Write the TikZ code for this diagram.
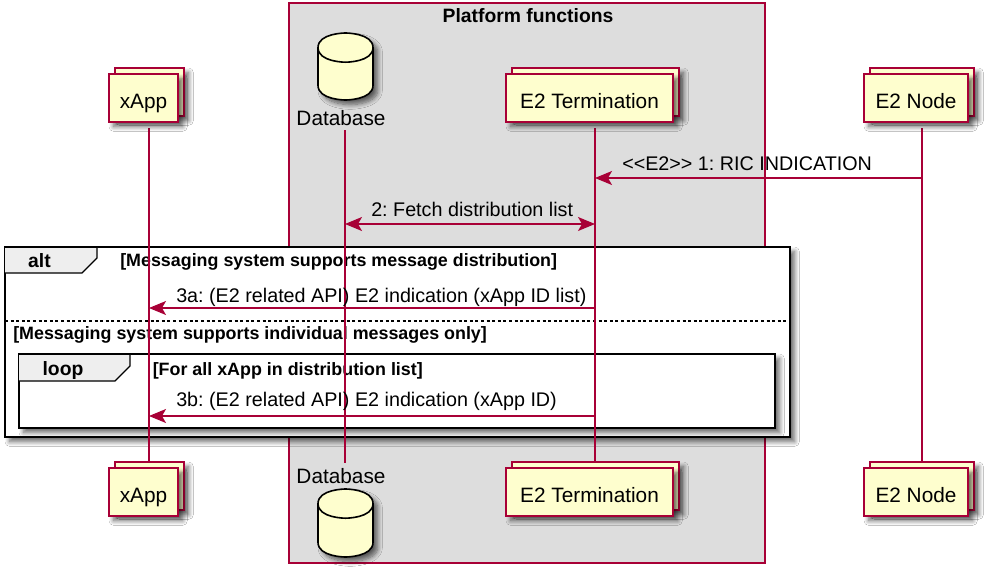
\documentclass[tikz,border=0pt]{standalone}
\usepackage{fontspec}
\setmainfont{Liberation Sans}[Ligatures=TeXOff]
\frenchspacing
\usetikzlibrary{arrows.meta,shadows,shadows.blur}
\definecolor{pred}{HTML}{A80036}
\definecolor{pyel}{HTML}{FEFECE}
\definecolor{pgray}{HTML}{DDDDDD}
\definecolor{ptab}{HTML}{EEEEEE}
\tikzset{
  softshadow/.style={blur shadow={shadow xshift=3.5pt,shadow yshift=-3.5pt,shadow blur radius=3.5pt,shadow blur steps=8,shadow opacity=60}},
  part/.style={draw=pred,fill=pyel,line width=1.6pt,minimum height=36pt,inner sep=0pt,
    text height=15pt,text depth=0pt,font=\fontsize{15.6}{18}\selectfont,softshadow},
  partback/.style={draw=pred,fill=pyel,line width=1.6pt,minimum height=36pt,inner sep=0pt,softshadow},
  lifeline/.style={draw=pred,line width=0.9pt},
  msg/.style={draw=pred,line width=0.9pt,-{Stealth[length=12.75pt,width=10.5pt,inset=3pt]}},
  msgboth/.style={draw=pred,line width=0.9pt,{Stealth[length=12.75pt,width=10.5pt,inset=3pt]}-{Stealth[length=12.75pt,width=10.5pt,inset=3pt]}},
  msglabel/.style={anchor=base west,inner sep=0pt,font=\fontsize{14.8}{17}\selectfont},
  grp/.style={draw=black,line width=2pt,fill=white,softshadow},
  grptab/.style={draw=black,line width=1pt,fill=ptab},
  grplabel/.style={anchor=base,inner sep=0pt,font=\bfseries\fontsize{14.5}{17}\selectfont},
  cond/.style={anchor=base west,inner sep=0pt,font=\bfseries\fontsize{13.4}{16}\selectfont},
  dbbody/.style={draw=black,line width=1.2pt,fill=pyel,softshadow},
  dbline/.style={draw=black,line width=1.2pt},
  dblabel/.style={anchor=base,inner sep=0pt,font=\fontsize{15.6}{18}\selectfont},
}
\newcommand\dbcyl[4]{%
  \pgfmathsetmacro\dbcx{(#1+#3)/2}%
  \pgfmathsetmacro\dbya{#2+14.6}%
  \pgfmathsetmacro\dbyb{#4-14.6}%
  \pgfmathsetmacro\dbyc{#2+29.2}%
  \path[dbbody] (#1,\dbya) .. controls (#1,#2) and (\dbcx,#2) .. (\dbcx,#2)
     .. controls (\dbcx,#2) and (#3,#2) .. (#3,\dbya) -- (#3,\dbyb)
     .. controls (#3,#4) and (\dbcx,#4) .. (\dbcx,#4)
     .. controls (\dbcx,#4) and (#1,#4) .. (#1,\dbyb) -- cycle;
  \draw[dbline] (#1,\dbya) .. controls (#1,\dbyc) and (\dbcx,\dbyc) .. (\dbcx,\dbyc)
     .. controls (\dbcx,\dbyc) and (#3,\dbyc) .. (#3,\dbya);
}
\begin{document}
\begin{tikzpicture}[x=0.75pt,y=-0.75pt]
\useasboundingbox[fill=white] (0,0) rectangle (989,575);

% platform box
\draw[draw=pred,fill=pgray,line width=0.9pt] (289,3) rectangle (765,563);
\node[grplabel] (ptitle) at (528,22.5) {Platform functions};

% alt group
\draw[grp] (5,247) rectangle (790,437);
\draw[grptab] (5,247) -- (97,247) -- (97,258) -- (82,273) -- (5,273);
\draw[line width=2pt] (5,247) -- (97,247);
\node[grplabel] (altlbl) at (39.5,267) {alt};
\node[cond] (altc1) at (120,266.7) {[Messaging system supports message distribution]};
\draw[line width=0.9pt,dash pattern=on 2.2pt off 2pt] (5,321) -- (790,321);
\node[cond] (altc2) at (13,339) {[Messaging system supports individual messages only]};

% loop group
\draw[grp] (19,354) rectangle (775,428);
\draw[grptab] (19,354) -- (130,354) -- (130,366) -- (115,381) -- (19,381);
\draw[line width=2pt] (19,354) -- (130,354);
\node[grplabel] (looplbl) at (63,375) {loop};
\node[cond] (loopc) at (152.5,375) {[For all xApp in distribution list]};

% lifelines
\coordinate (xappA) at (149,128); \coordinate (xappZ) at (149,462);
\coordinate (dbA) at (345,130);   \coordinate (dbZ) at (345,463);
\coordinate (e2tA) at (595,128);  \coordinate (e2tZ) at (595,462);
\coordinate (e2nA) at (922,128);  \coordinate (e2nZ) at (922,462);
\draw[lifeline] (xappA) -- (xappZ);
\draw[lifeline] (dbA) -- (dbZ);
\draw[lifeline] (e2tA) -- (e2tZ);
\draw[lifeline] (e2nA) -- (e2nZ);

% messages
\coordinate (m1a) at (922,178); \coordinate (m1b) at (595,178);
\draw[msg] (m1a) -- (m1b);
\node[msglabel] (m1l) at (622,170.5) {<<E2>> 1: RIC INDICATION};

\coordinate (m2a) at (345,224); \coordinate (m2b) at (595,224);
\draw[msgboth] (m2a) -- (m2b);
\node[msglabel] (m2l) at (371,216.5) {2: Fetch distribution list};

\coordinate (m3a) at (595,308); \coordinate (m3b) at (149,308);
\draw[msg] (m3a) -- (m3b);
\node[msglabel] (m3l) at (176,302) {3a: (E2 related API) E2 indication (xApp ID list)};

\coordinate (m4a) at (595,416); \coordinate (m4b) at (149,416);
\draw[msg] (m4a) -- (m4b);
\node[msglabel] (m4l) at (176,406) {3b: (E2 related API) E2 indication (xApp ID)};

% participants top
\node[partback,minimum width=51.75pt] (xappTb) at (149.5,92) {};
\node[part,minimum width=51.75pt] (xappT) at (143.5,98) {xApp};
\node[partback,minimum width=125.25pt] (e2tTb) at (595.5,92) {};
\node[part,minimum width=125.25pt] (e2tT) at (589.5,98) {E2 Termination};
\node[partback,minimum width=78pt] (e2nTb) at (922,92) {};
\node[part,minimum width=78pt] (e2nT) at (916,98) {E2 Node};
\dbcyl{318}{33}{373}{100}
\node[dblabel] (dbT) at (341,125) {Database};

% participants bottom
\node[partback,minimum width=51.75pt] (xappBb) at (149.5,486) {};
\node[part,minimum width=51.75pt] (xappB) at (143.5,492) {xApp};
\node[partback,minimum width=125.25pt] (e2tBb) at (595.5,486) {};
\node[part,minimum width=125.25pt] (e2tB) at (589.5,492) {E2 Termination};
\node[partback,minimum width=78pt] (e2nBb) at (922,486) {};
\node[part,minimum width=78pt] (e2nB) at (916,492) {E2 Node};
\node[dblabel] (dbB) at (341,483.5) {Database};
\dbcyl{318}{489}{373}{557}
\end{tikzpicture}
\end{document}
